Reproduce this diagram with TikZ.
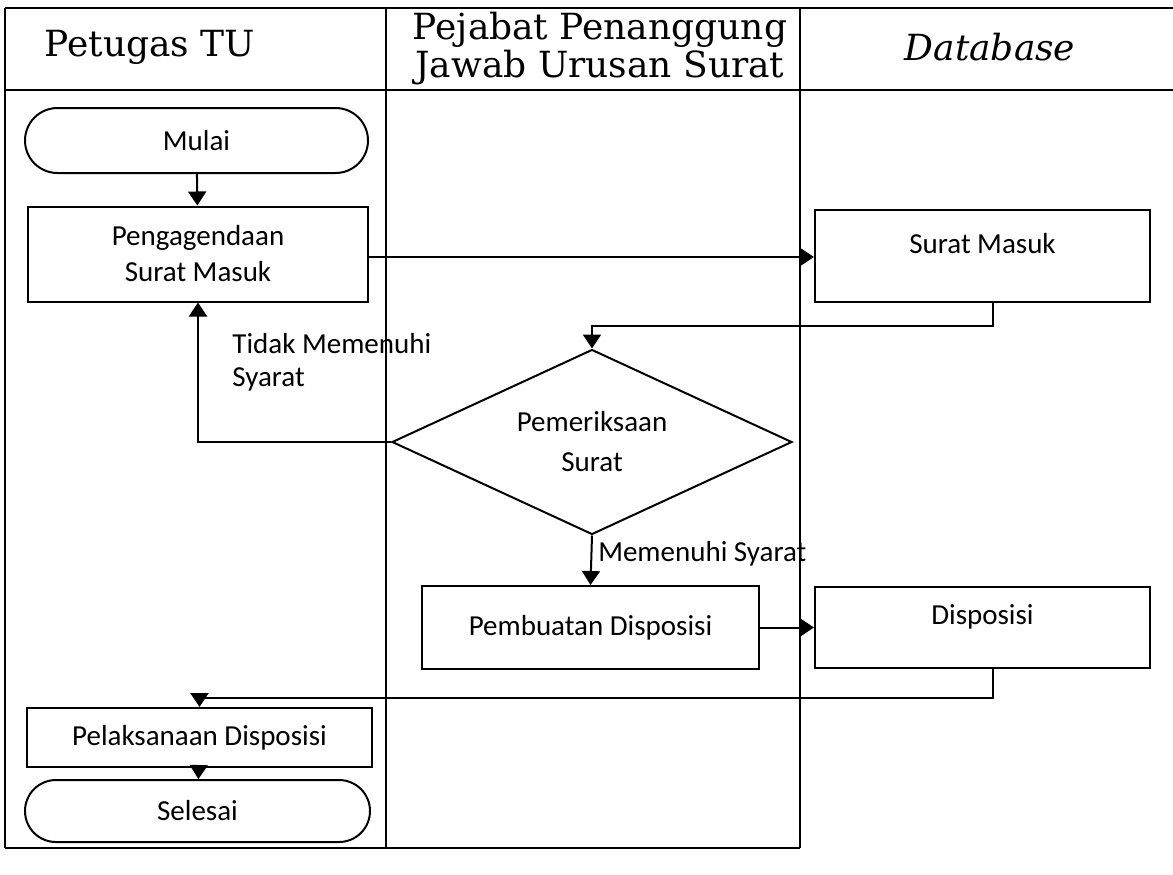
\documentclass[tikz,border=0pt]{standalone}
\usepackage{fontspec}
\setmainfont{Carlito}
\newfontfamily\headfont{DejaVu Serif}
\usetikzlibrary{arrows.meta,positioning,shapes.geometric,shapes.misc}

\tikzset{
  lane/.style={line width=0.6pt},
  frame/.style={line width=1pt},
  proc/.style={draw,line width=1pt,rectangle,align=center,font=\fontsize{14.5}{18}\selectfont,inner sep=0pt},
  term/.style={draw,line width=1pt,rounded rectangle,align=center,font=\fontsize{14.5}{18}\selectfont,inner sep=0pt},
  dec/.style={draw,line width=1pt,diamond,aspect=2.16,align=center,font=\fontsize{14.5}{20}\selectfont,inner sep=0pt},
  dbbox/.style={proc,text height=10pt,text depth=13pt},
  lbl/.style={font=\fontsize{14.5}{16.5}\selectfont,align=left,inner sep=0pt},
  head/.style={font=\headfont\fontsize{18}{19}\selectfont,align=center,inner sep=0pt},
  flow/.style={line width=1pt,-{Triangle[length=7pt,width=9pt]}}
}

\begin{document}
\begin{tikzpicture}[x=0.5pt,y=-0.5pt]
  \useasboundingbox (0,0) rectangle (1173,874);
  % Lanes
  \draw[frame] (5,8) -- (1173,8);
  \draw[frame] (5,90) -- (1173,90);
  \draw[lane] (5,848) -- (800,848);
  \draw[lane] (5,8) -- (5,848);
  \draw[lane] (386,8) -- (386,848);
  \draw[lane] (800,8) -- (800,848);
  % Headers
  \node[head] (hTU) at (150,47) {Petugas TU};
  \node[head] (hPJ) at (600,49) {Pejabat Penanggung\\Jawab Urusan Surat};
  \node[head] (hDB) at (990,47) {\itshape Database};
  % Petugas TU
  \node[term,minimum width=171.5pt,minimum height=32.5pt] (mulai) at (196.5,140.5) {Mulai};
  \node[proc,minimum width=170pt,minimum height=47.5pt] (agenda) at (198,254) {Pengagendaan\\Surat Masuk};
  \node[proc,minimum width=172.5pt,minimum height=29.5pt] (laksana) at (199.5,737.5) {Pelaksanaan Disposisi};
  \node[term,minimum width=172.5pt,minimum height=31pt] (selesai) at (197.5,811) {Selesai};
  % Pejabat
  \node[dec,minimum width=200pt,minimum height=92.5pt] (periksa) at (592,442) {Pemeriksaan\\Surat};
  \node[proc,minimum width=168.5pt,minimum height=41.5pt] (buat) at (590.5,627.5) {Pembuatan Disposisi};
  % Database
  \node[dbbox,minimum width=167.5pt,minimum height=46pt] (masuk) at (982.5,256) {Surat Masuk};
  \node[dbbox,minimum width=167.5pt,minimum height=40.5pt] (dispo) at (982.5,627.5) {Disposisi};
  % Flows
  \draw[flow] (mulai) -- (agenda);
  \draw[flow] ([yshift=-1.5pt]agenda.east) -- ([yshift=-1.5pt]agenda.east -| masuk.west);
  \draw[flow] ([xshift=5pt]masuk.south) -- ++(0,23) -| (periksa.north);
  \draw[flow] (periksa.west) -| (agenda.south);
  \node[lbl,anchor=west] (tidak) at (232,362) {Tidak Memenuhi\\Syarat};
  \draw[flow] (periksa.south) -- (buat.north)
    node[lbl,midway,right=3pt,yshift=3pt] (ok) {Memenuhi Syarat};
  \draw[flow] (buat) -- (dispo);
  \draw[flow] ([xshift=5pt]dispo.south) -- ++(0,29) -| (laksana.north);
  \draw[flow] (laksana) -- (selesai);
\end{tikzpicture}
\end{document}
